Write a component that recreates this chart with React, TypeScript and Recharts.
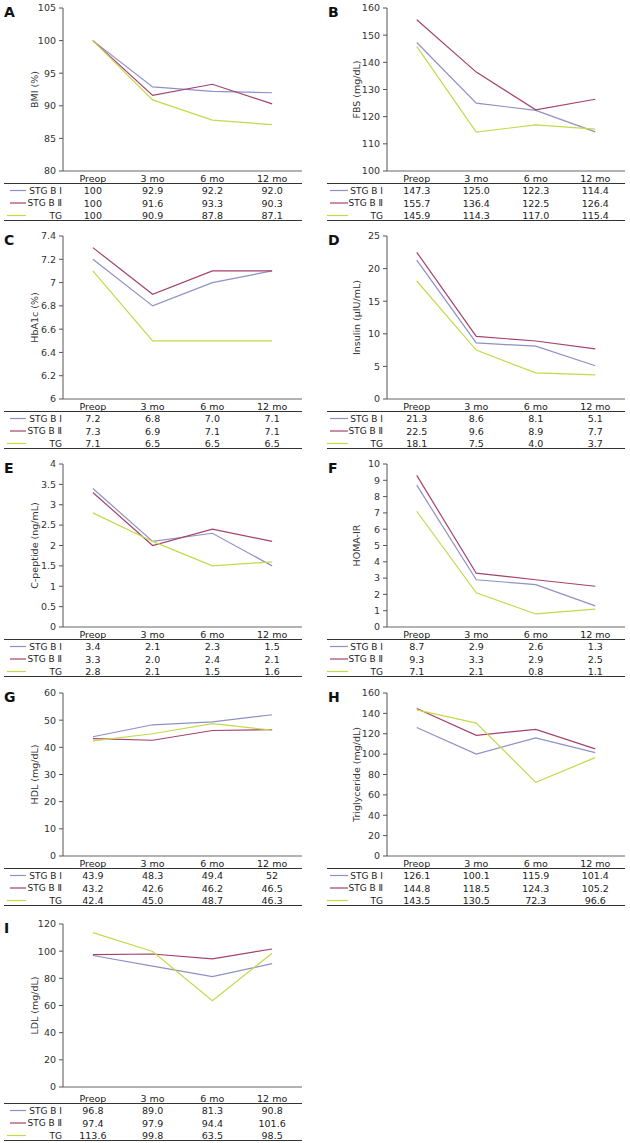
import { LineChart, Line, XAxis, YAxis } from 'recharts'

const FONT = '"DejaVu Sans", Verdana, sans-serif'
const FS = 9.5

const categories = ['Preop', '3 mo', '6 mo', '12 mo']
const groups = ['STG B \u2160', 'STG B \u2161', 'TG']
const colors = ['#8e90c8', '#a5426c', '#c4d94a']

// values as printed in the table under each panel
const bmiB1 = ['100', '92.9', '92.2', '92.0']
const bmiB2 = ['100', '91.6', '93.3', '90.3']
const bmiTG = ['100', '90.9', '87.8', '87.1']
const bmiTicks = [80, 85, 90, 95, 100, 105]

const fbsB1 = ['147.3', '125.0', '122.3', '114.4']
const fbsB2 = ['155.7', '136.4', '122.5', '126.4']
const fbsTG = ['145.9', '114.3', '117.0', '115.4']
const fbsTicks = [100, 110, 120, 130, 140, 150, 160]

const a1cB1 = ['7.2', '6.8', '7.0', '7.1']
const a1cB2 = ['7.3', '6.9', '7.1', '7.1']
const a1cTG = ['7.1', '6.5', '6.5', '6.5']
const a1cTicks = [6, 6.2, 6.4, 6.6, 6.8, 7, 7.2, 7.4]

const insB1 = ['21.3', '8.6', '8.1', '5.1']
const insB2 = ['22.5', '9.6', '8.9', '7.7']
const insTG = ['18.1', '7.5', '4.0', '3.7']
const insTicks = [0, 5, 10, 15, 20, 25]

const cpepB1 = ['3.4', '2.1', '2.3', '1.5']
const cpepB2 = ['3.3', '2.0', '2.4', '2.1']
const cpepTG = ['2.8', '2.1', '1.5', '1.6']
const cpepTicks = [0, 0.5, 1, 1.5, 2, 2.5, 3, 3.5, 4]

const homaB1 = ['8.7', '2.9', '2.6', '1.3']
const homaB2 = ['9.3', '3.3', '2.9', '2.5']
const homaTG = ['7.1', '2.1', '0.8', '1.1']
const homaTicks = [0, 1, 2, 3, 4, 5, 6, 7, 8, 9, 10]

const hdlB1 = ['43.9', '48.3', '49.4', '52']
const hdlB2 = ['43.2', '42.6', '46.2', '46.5']
const hdlTG = ['42.4', '45.0', '48.7', '46.3']
const hdlTicks = [0, 10, 20, 30, 40, 50, 60]

const trigB1 = ['126.1', '100.1', '115.9', '101.4']
const trigB2 = ['144.8', '118.5', '124.3', '105.2']
const trigTG = ['143.5', '130.5', '72.3', '96.6']
const trigTicks = [0, 20, 40, 60, 80, 100, 120, 140, 160]

const ldlB1 = ['96.8', '89.0', '81.3', '90.8']
const ldlB2 = ['97.4', '97.9', '94.4', '101.6']
const ldlTG = ['113.6', '99.8', '63.5', '98.5']
const ldlTicks = [0, 20, 40, 60, 80, 100, 120]

const rowTops = [8, 236, 464, 693, 924]

interface PanelDef {
  letter: string
  yLabel: string
  rows: string[][]
  ticks: number[]
  col: number
  row: number
  shift?: number
}

const panels: PanelDef[] = [
  { letter: 'A', yLabel: 'BMI (%)', rows: [bmiB1, bmiB2, bmiTG], ticks: bmiTicks, col: 0, row: 0 },
  { letter: 'B', yLabel: 'FBS (mg/dL)', rows: [fbsB1, fbsB2, fbsTG], ticks: fbsTicks, col: 1, row: 0 },
  { letter: 'C', yLabel: 'HbA1c (%)', rows: [a1cB1, a1cB2, a1cTG], ticks: a1cTicks, col: 0, row: 1 },
  { letter: 'D', yLabel: 'Insulin (\u03bcIU/mL)', rows: [insB1, insB2, insTG], ticks: insTicks, col: 1, row: 1 },
  { letter: 'E', yLabel: 'C-peptide (ng/mL)', rows: [cpepB1, cpepB2, cpepTG], ticks: cpepTicks, col: 0, row: 2 },
  { letter: 'F', yLabel: 'HOMA-IR', rows: [homaB1, homaB2, homaTG], ticks: homaTicks, col: 1, row: 2 },
  { letter: 'G', yLabel: 'HDL (mg/dL)', rows: [hdlB1, hdlB2, hdlTG], ticks: hdlTicks, col: 0, row: 3 },
  { letter: 'H', yLabel: 'Triglyceride (mg/dL)', rows: [trigB1, trigB2, trigTG], ticks: trigTicks, col: 1, row: 3 },
  { letter: 'I', yLabel: 'LDL (mg/dL)', rows: [ldlB1, ldlB2, ldlTG], ticks: ldlTicks, col: 0, row: 4, shift: 4 },
]

const PLOT_H = 163
const TOP_M = 8
const AXIS_H = 60
const W = 315

function Panel({ p }: { p: PanelDef }) {
  const left = p.col === 0 ? 0 : 315
  const top = rowTops[p.row] - TOP_M
  const margin =
    p.col === 0
      ? { top: TOP_M, right: 13, left: 13, bottom: 0 }
      : { top: TOP_M, right: 5, left: 22, bottom: 0 }
  const plotW = W - margin.left - margin.right - 50
  const shift = p.shift || 0
  const data = categories.map((c, i) => ({
    name: c,
    b1: Number(p.rows[0][i]),
    b2: Number(p.rows[1][i]),
    tg: Number(p.rows[2][i]),
  }))

  // category label + the three table values stacked under each x position
  const TableTick = (props: any) => {
    const { x, y, payload } = props
    const i = categories.indexOf(payload.value)
    return (
      <g fontFamily={FONT} fontSize={FS} fill="#222" textAnchor="middle">
        <text x={x} y={y + 7 + shift} dominantBaseline="central">
          {payload.value}
        </text>
        {p.rows.map((r, k) => (
          <text key={k} x={x} y={y + 19.5 + shift + k * 12.5} dominantBaseline="central">
            {r[i]}
          </text>
        ))}
      </g>
    )
  }

  const base = TOP_M + PLOT_H + shift
  const ruleX1 = p.col === 0 ? 4 : 12
  const ruleX2 = W - margin.right
  const lx = p.col === 0 ? 10 : 15
  const lxTG = p.col === 0 ? 7 : 12
  const lx2 = p.col === 0 ? 26 : 33
  const textEnd = p.col === 0 ? 62 : 68

  return (
    <div style={{ position: 'absolute', left, top, width: W, height: TOP_M + PLOT_H + AXIS_H }}>
      <LineChart width={W} height={TOP_M + PLOT_H + AXIS_H} data={data} margin={margin}>
        <XAxis
          dataKey="name"
          height={AXIS_H}
          padding={{ left: plotW / 8, right: plotW / 8 }}
          axisLine={{ stroke: '#666' }}
          tickLine={false}
          tickSize={0}
          tickMargin={0}
          interval={0}
          tick={<TableTick />}
        />
        <YAxis
          width={50}
          domain={[p.ticks[0], p.ticks[p.ticks.length - 1]]}
          ticks={p.ticks}
          interval={0}
          allowDataOverflow
          axisLine={{ stroke: '#555' }}
          tickLine={{ stroke: '#555' }}
          tickSize={4}
          tickMargin={3}
          tick={{ fontSize: FS, fill: '#333', fontFamily: FONT }}
          label={{
            value: p.yLabel,
            angle: -90,
            position: 'insideLeft',
            offset: p.col === 0 ? 22 : 20,
            style: { textAnchor: 'middle', fontSize: FS, fill: '#333', fontFamily: FONT },
          }}
        />
        {['b1', 'b2', 'tg'].map((k, idx) => (
          <Line
            key={k}
            type="linear"
            dataKey={k}
            stroke={colors[idx]}
            strokeWidth={1.2}
            dot={false}
            isAnimationActive={false}
          />
        ))}
      </LineChart>
      <svg
        width={W}
        height={TOP_M + PLOT_H + AXIS_H}
        style={{ position: 'absolute', left: 0, top: 0, pointerEvents: 'none' }}
      >
        <text x={p.col === 0 ? 4 : 13} y={12} dominantBaseline="central" fontFamily={FONT} fontWeight="bold" fontSize={14} fill="#111">
          {p.letter}
        </text>
        <line x1={ruleX1} x2={ruleX2} y1={base + 12.5} y2={base + 12.5} stroke="#333" strokeWidth={1.2} />
        <line x1={ruleX1} x2={ruleX2} y1={base + 49.5} y2={base + 49.5} stroke="#333" strokeWidth={1.2} />
        {groups.map((g, k) => (
          <g key={g}>
            <line
              x1={k === 2 ? lxTG : lx}
              x2={lx2}
              y1={base + 19.5 + k * 12.5}
              y2={base + 19.5 + k * 12.5}
              stroke={colors[k]}
              strokeWidth={1.2}
            />
            <text
              x={textEnd}
              y={base + 19.5 + k * 12.5}
              dominantBaseline="central"
              textAnchor="end"
              fontFamily={FONT}
              fontSize={FS - 0.5}
              fill="#222"
            >
              {g}
            </text>
          </g>
        ))}
      </svg>
    </div>
  )
}

export default function App() {
  return (
    <div
      style={{
        position: 'absolute',
        left: 0,
        top: 0,
        width: 630,
        height: 1143,
        background: '#fff',
        fontFamily: FONT,
      }}
    >
      {panels.map((p) => (
        <Panel key={p.letter} p={p} />
      ))}
    </div>
  )
}
